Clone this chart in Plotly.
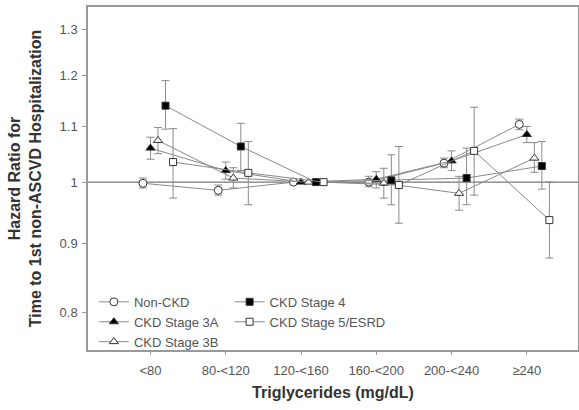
import math
import plotly.graph_objects as go

categories = ["<80", "80-<120", "120-<160", "160-<200", "200-<240", "≥240"]

series_names = ["Non-CKD", "CKD Stage 3A", "CKD Stage 3B", "CKD Stage 4", "CKD Stage 5/ESRD"]

non_ckd = [0.998, 0.986, 1.0, 1.0, 1.033, 1.104]
non_ckd_lo = [0.990, 0.978, 1.0, 0.992, 1.025, 1.094]
non_ckd_hi = [1.007, 0.995, 1.0, 1.010, 1.042, 1.114]

stage3a = [1.060, 1.020, 1.0, 1.005, 1.037, 1.085]
stage3a_lo = [1.040, 1.005, 1.0, 0.990, 1.020, 1.070]
stage3a_hi = [1.080, 1.035, 1.0, 1.018, 1.055, 1.100]

stage3b = [1.074, 1.007, 1.0, 0.998, 0.981, 1.042]
stage3b_lo = [1.050, 0.990, 1.0, 0.973, 0.953, 1.017]
stage3b_hi = [1.098, 1.025, 1.0, 1.024, 1.010, 1.070]

stage4 = [1.140, 1.063, 1.0, 1.003, 1.007, 1.028]
stage4_lo = [1.095, 1.020, 1.0, 0.962, 0.962, 0.988]
stage4_hi = [1.190, 1.106, 1.0, 1.048, 1.060, 1.072]

stage5 = [1.035, 1.016, 1.0, 0.995, 1.055, 0.937]
stage5_lo = [0.973, 0.962, 1.0, 0.932, 0.978, 0.878]
stage5_hi = [1.096, 1.072, 1.0, 1.063, 1.137, 1.000]

y_ticks = [0.8, 0.9, 1.0, 1.1, 1.2, 1.3]
y_tick_labels = ["0.8", "0.9", "1", "1.1", "1.2", "1.3"]

offsets = [-0.1, 0.0, 0.1, 0.2, 0.3]
symbols = ["circle", "triangle-up", "triangle-up", "square", "square"]
fills = ["white", "black", "white", "black", "white"]
legends = ["legend", "legend", "legend", "legend2", "legend2"]

data = [
    (non_ckd, non_ckd_lo, non_ckd_hi),
    (stage3a, stage3a_lo, stage3a_hi),
    (stage3b, stage3b_lo, stage3b_hi),
    (stage4, stage4_lo, stage4_hi),
    (stage5, stage5_lo, stage5_hi),
]

FONT = "Liberation Sans, Arial, sans-serif"

fig = go.Figure()

for i, (vals, lo, hi) in enumerate(data):
    xs = [k + offsets[i] for k in range(len(categories))]
    plus = [h - v for h, v in zip(hi, vals)]
    minus = [v - l for v, l in zip(vals, lo)]
    sym = symbols[i]
    fig.add_trace(go.Scatter(
        x=xs, y=vals, name=series_names[i], mode="lines+markers",
        line=dict(color="#8a8a8a", width=1),
        marker=dict(symbol=sym, size=8 if sym != "square" else 7,
                    color=fills[i], line=dict(color="#333333", width=1)),
        error_y=dict(type="data", symmetric=False, array=plus, arrayminus=minus,
                     color="#8a8a8a", thickness=1, width=4),
        legend=legends[i],
    ))

fig.add_hline(y=1.0, line=dict(color="#555555", width=1), layer="below")

fig.update_layout(
    width=579, height=410,
    margin=dict(l=88, r=1, t=7, b=60),
    paper_bgcolor="white", plot_bgcolor="white",
    font=dict(family=FONT, size=13, color="#444444"),
    showlegend=True,
    legend=dict(x=0.012, y=0.184, xanchor="left", yanchor="top",
                bgcolor="rgba(0,0,0,0)", font=dict(size=13, color="#555555"),
                tracegroupgap=0, itemwidth=30),
    legend2=dict(x=0.289, y=0.184, xanchor="left", yanchor="top",
                 bgcolor="rgba(0,0,0,0)", font=dict(size=13, color="#555555"),
                 tracegroupgap=0, itemwidth=30),
    xaxis=dict(
        range=[-0.83, 5.68], tickmode="array", automargin=False,
        tickvals=list(range(len(categories))), ticktext=categories,
        showgrid=False, zeroline=False, showline=True, linecolor="#999999",
        linewidth=1.5, mirror=True, ticks="outside", ticklen=3, tickcolor="#999999",
        ticklabelstandoff=5,
        tickfont=dict(size=13, color="#555555"),
        title=dict(text="<b>Triglycerides (mg/dL)</b>", font=dict(size=16, color="#333333"),
                   standoff=9),
    ),
    yaxis=dict(
        type="log", range=[math.log10(0.75), math.log10(1.35)], autorange=False,
        automargin=False,
        tickmode="array", tickvals=y_ticks, ticktext=y_tick_labels,
        showgrid=False, zeroline=False, showline=True, linecolor="#999999",
        linewidth=1.5, mirror=True, ticks="outside", ticklen=4, tickcolor="#999999",
        ticklabelstandoff=2,
        tickfont=dict(size=13, color="#555555"),
        title=dict(text="<b>Hazard Ratio for<br>Time to 1st non-ASCVD Hospitalization</b>",
                   font=dict(size=16, color="#333333"), standoff=14),
    ),
)

fig.write_html("out.html", config={"displayModeBar": False},
               post_script="document.body.style.margin='0';")
